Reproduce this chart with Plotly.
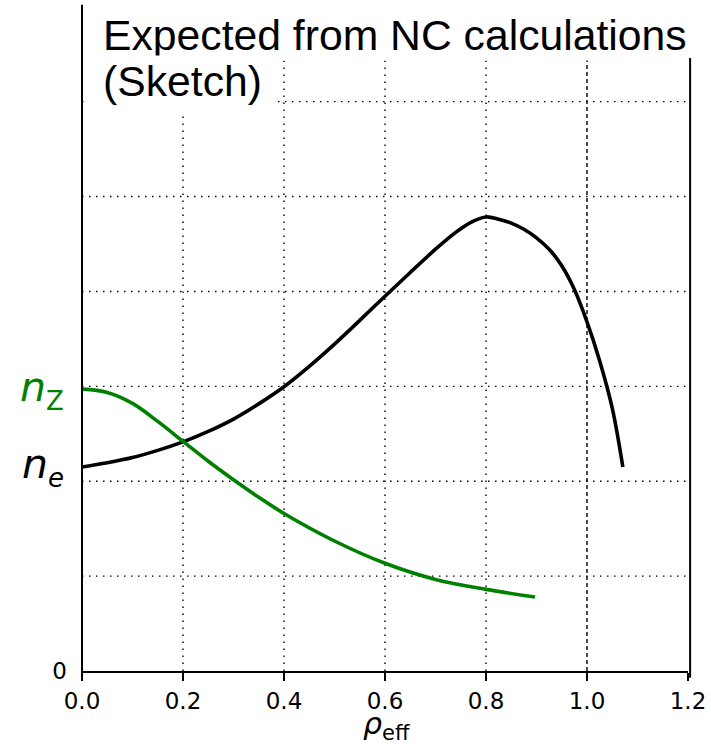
import plotly.graph_objects as go

# ---- data ----
rho_e = [0, 0.05, 0.1, 0.15, 0.2, 0.25, 0.3, 0.35, 0.4, 0.45, 0.5, 0.55, 0.6, 0.65, 0.7,
         0.725, 0.75, 0.775, 0.8, 0.825, 0.85, 0.875, 0.9, 0.925, 0.95, 0.975, 1.0, 1.025, 1.05, 1.071]
n_e = [2.15, 2.195, 2.25, 2.325, 2.415, 2.525, 2.655, 2.815, 2.995, 3.21, 3.445, 3.695, 3.95, 4.20, 4.445,
       4.56, 4.66, 4.74, 4.785, 4.762, 4.72, 4.655, 4.565, 4.445, 4.27, 4.02, 3.68, 3.27, 2.77, 2.15]

rho_z = [0, 0.05, 0.1, 0.15, 0.2, 0.25, 0.3, 0.35, 0.4, 0.5, 0.6, 0.7, 0.8, 0.897]
n_z = [2.97, 2.935, 2.82, 2.63, 2.42, 2.21, 2.015, 1.83, 1.66, 1.37, 1.135, 0.965, 0.86, 0.78]

x_ticks = [0.0, 0.2, 0.4, 0.6, 0.8, 1.0, 1.2]
x_ticktext = ["0.0", "0.2", "0.4", "0.6", "0.8", "1.0", "1.2"]
y_grid = [1, 2, 3, 4, 5, 6]
x_grid_dotted = [0.2, 0.4, 0.6, 0.8]
x_grid_dashed = [1.0]

title_line1 = "Expected from NC calculations"
title_line2 = "(Sketch)"

X_MAX = 1.2
Y_MAX = 6.46

fig = go.Figure()
fig.add_trace(go.Scatter(x=rho_e, y=n_e, mode="lines",
                         line=dict(color="black", width=3.6, shape="spline", smoothing=1.0),
                         showlegend=False, hoverinfo="skip"))
fig.add_trace(go.Scatter(x=rho_z, y=n_z, mode="lines",
                         line=dict(color="#008000", width=3.6, shape="spline", smoothing=1.0),
                         showlegend=False, hoverinfo="skip"))

shapes = []
for yv in y_grid:
    shapes.append(dict(type="line", xref="x", yref="y", x0=0, x1=X_MAX, y0=yv, y1=yv,
                       line=dict(color="black", width=1.4, dash="1.5px,5.5px"), layer="below"))
for xv in x_grid_dotted:
    shapes.append(dict(type="line", xref="x", yref="y", x0=xv, x1=xv, y0=0, y1=Y_MAX,
                       line=dict(color="black", width=1.4, dash="1.5px,5.5px"), layer="below"))
for xv in x_grid_dashed:
    shapes.append(dict(type="line", xref="x", yref="y", x0=xv, x1=xv, y0=0, y1=Y_MAX,
                       line=dict(color="black", width=1.4, dash="4px,3px"), layer="below"))
# white mask behind the "(Sketch)" text box
shapes.append(dict(type="rect", xref="x", yref="y", x0=0.005, x1=0.38, y0=5.9, y1=Y_MAX,
                   fillcolor="white", line=dict(width=0), layer="below"))
# left spine (extends above the plot) and right spine
shapes.append(dict(type="line", xref="paper", yref="paper", x0=0, x1=0, y0=-0.013, y1=1.087,
                   line=dict(color="black", width=2)))
shapes.append(dict(type="line", xref="paper", yref="paper", x0=1.0035, x1=1.0035, y0=-0.011, y1=1.0,
                   line=dict(color="black", width=2)))

annotations = [
    dict(text=title_line1, xref="paper", yref="paper", x=0.031, y=1.037,
         xanchor="left", yanchor="middle", showarrow=False, bgcolor="white",
         font=dict(family="Liberation Sans", size=42.7, color="black")),
    dict(text=title_line2, xref="paper", yref="paper", x=0.031, y=0.962,
         xanchor="left", yanchor="middle", showarrow=False, bgcolor="white",
         font=dict(family="Liberation Sans", size=42.7, color="black")),
    dict(text="<i>n</i><sub><span style='font-size:26px'>Z</span></sub>", xref="paper", yref="y",
         x=-0.026, y=n_z[0], xanchor="right", yanchor="middle", showarrow=False,
         font=dict(family="DejaVu Sans", size=41, color="#008000")),
    dict(text="<i>n</i><sub><span style='font-size:26px'><i>e</i></span></sub>", xref="paper", yref="y",
         x=-0.026, y=n_e[0], xanchor="right", yanchor="middle", showarrow=False,
         font=dict(family="DejaVu Sans", size=41, color="black")),
    dict(text="<i>ρ</i><sub><span style='font-size:21px'>eff</span></sub>", xref="paper", yref="paper",
         x=0.502, y=-0.089, xanchor="center", yanchor="middle", showarrow=False,
         font=dict(family="DejaVu Sans", size=30, color="black")),
]

fig.update_layout(
    width=711, height=744,
    margin=dict(l=82, r=23, t=58, b=72.5, pad=0, autoexpand=False),
    paper_bgcolor="white", plot_bgcolor="white",
    shapes=shapes, annotations=annotations,
    xaxis=dict(range=[0, X_MAX], tickvals=x_ticks, ticktext=x_ticktext, automargin=False,
               showgrid=False, zeroline=False, showline=True, linecolor="black", linewidth=2,
               ticks="outside", ticklen=8, tickwidth=1.6, tickcolor="black",
               tickfont=dict(family="DejaVu Sans", size=23, color="black")),
    yaxis=dict(range=[0, Y_MAX], tickvals=[0], ticktext=["0"], automargin=False,
               showgrid=False, zeroline=False, showline=False,
               ticks="", ticklabelstandoff=14,
               tickfont=dict(family="DejaVu Sans", size=23, color="black")),
)

fig.write_html("out.html")
